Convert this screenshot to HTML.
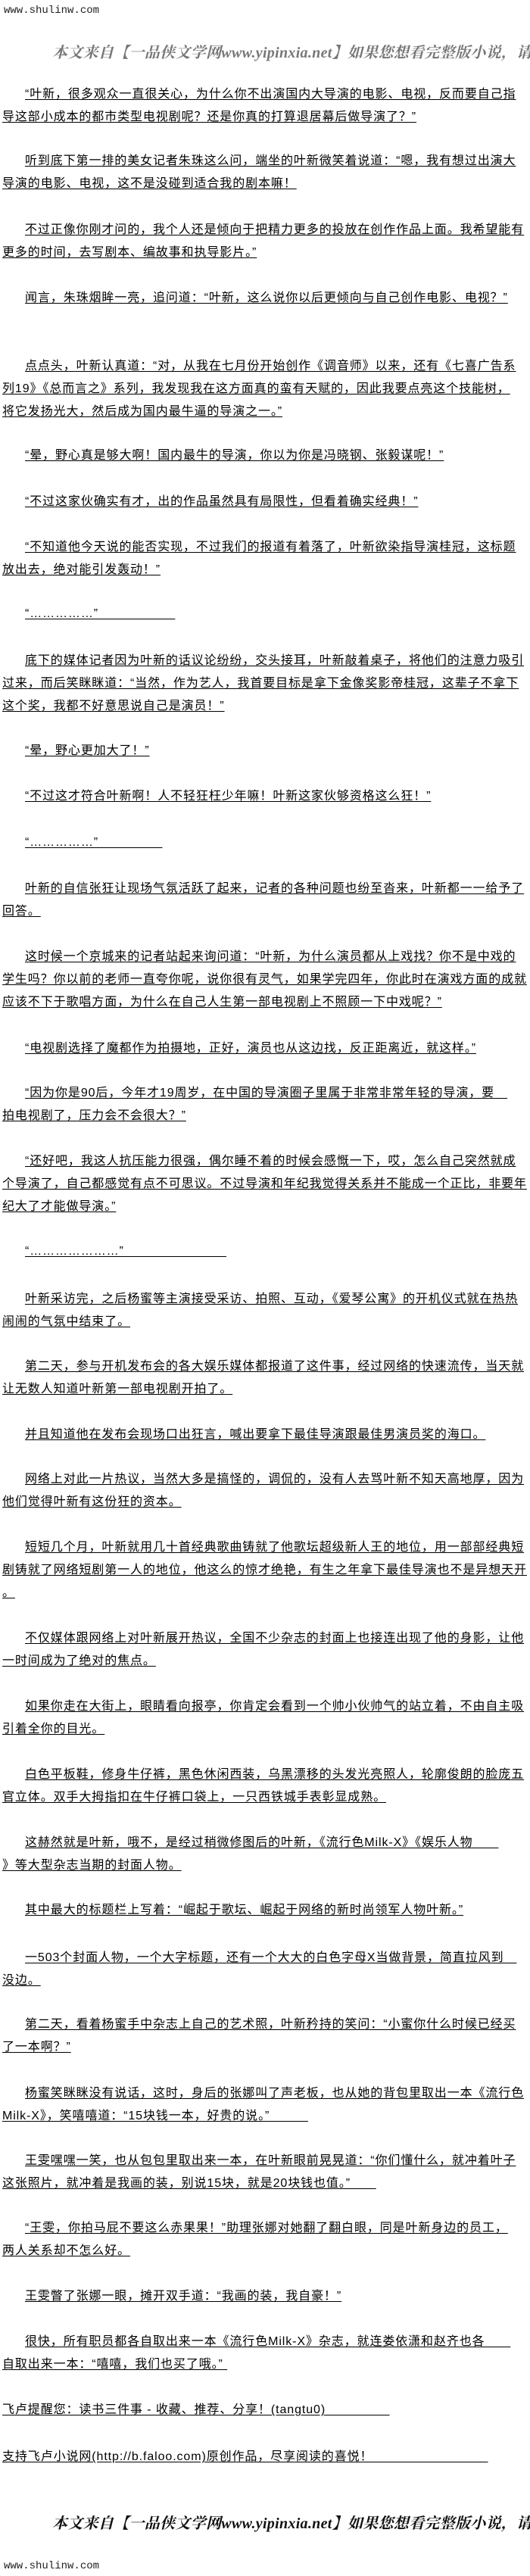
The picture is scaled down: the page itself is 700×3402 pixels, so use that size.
<!DOCTYPE html>
<html><head><meta charset="utf-8">
<style>
html,body{margin:0;padding:0;background:#fff;}
body{width:700px;height:3402px;position:relative;overflow:hidden;}
.p{position:absolute;left:3px;font-family:"Liberation Sans","Noto Sans CJK SC",sans-serif;font-size:16px;line-height:29.8px;letter-spacing:0.9px;color:#000;white-space:pre;text-decoration:underline;text-underline-offset:2px;}
.i{display:inline-block;width:30px;text-decoration:none;}
.www{position:absolute;left:5px;font-family:"Liberation Mono",monospace;font-size:14px;color:#222;}
.hd{position:absolute;left:69px;font-family:"Liberation Serif","Noto Serif CJK SC",serif;font-size:20px;font-weight:bold;font-style:italic;white-space:nowrap;letter-spacing:0.3px;}
</style></head><body>
<div class="www" style="top:6px">www.shulinw.com</div>
<div class="hd" style="top:53px;color:#777">本文来自【一品侠文学网www.yipinxia.net】如果您想看完整版小说，请</div>

<div class="p" style="top:110px"><span class="i"></span>“叶新，很多观众一直很关心，为什么你不出演国内大导演的电影、电视，反而要自己指
导这部小成本的都市类型电视剧呢？还是你真的打算退居幕后做导演了？”</div>
<div class="p" style="top:198px"><span class="i"></span>听到底下第一排的美女记者朱珠这么问，端坐的叶新微笑着说道：“嗯，我有想过出演大
导演的电影、电视，这不是没碰到适合我的剧本嘛！</div>
<div class="p" style="top:289px"><span class="i"></span>不过正像你刚才问的，我个人还是倾向于把精力更多的投放在创作作品上面。我希望能有
更多的时间，去写剧本、编故事和执导影片。”</div>
<div class="p" style="top:379px"><span class="i"></span>闻言，朱珠烟眸一亮，追问道：“叶新，这么说你以后更倾向与自己创作电影、电视？”</div>
<div class="p" style="top:469px"><span class="i"></span>点点头，叶新认真道：“对，从我在七月份开始创作《调音师》以来，还有《七喜广告系
列19》《总而言之》系列，我发现我在这方面真的蛮有天赋的，因此我要点亮这个技能树，
将它发扬光大，然后成为国内最牛逼的导演之一。”</div>
<div class="p" style="top:587px"><span class="i"></span>“晕，野心真是够大啊！国内最牛的导演，你以为你是冯晓钢、张毅谋呢！”</div>
<div class="p" style="top:648px"><span class="i"></span>“不过这家伙确实有才，出的作品虽然具有局限性，但看着确实经典！”</div>
<div class="p" style="top:708px"><span class="i"></span>“不知道他今天说的能否实现，不过我们的报道有着落了，叶新欲染指导演桂冠，这标题
放出去，绝对能引发轰动！”</div>
<div class="p" style="top:796px"><span class="i"></span>“……………”　　　　　　</div>
<div class="p" style="top:858px"><span class="i"></span>底下的媒体记者因为叶新的话议论纷纷，交头接耳，叶新敲着桌子，将他们的注意力吸引
过来，而后笑眯眯道：“当然，作为艺人，我首要目标是拿下金像奖影帝桂冠，这辈子不拿下
这个奖，我都不好意思说自己是演员！”</div>
<div class="p" style="top:977px"><span class="i"></span>“晕，野心更加大了！”</div>
<div class="p" style="top:1037px"><span class="i"></span>“不过这才符合叶新啊！人不轻狂枉少年嘛！叶新这家伙够资格这么狂！”</div>
<div class="p" style="top:1098px"><span class="i"></span>“……………”　　　　　</div>
<div class="p" style="top:1159px"><span class="i"></span>叶新的自信张狂让现场气氛活跃了起来，记者的各种问题也纷至沓来，叶新都一一给予了
回答。</div>
<div class="p" style="top:1249px"><span class="i"></span>这时候一个京城来的记者站起来询问道：“叶新，为什么演员都从上戏找？你不是中戏的
学生吗？你以前的老师一直夸你呢，说你很有灵气，如果学完四年，你此时在演戏方面的成就
应该不下于歌唱方面，为什么在自己人生第一部电视剧上不照顾一下中戏呢？”</div>
<div class="p" style="top:1370px"><span class="i"></span>“电视剧选择了魔都作为拍摄地，正好，演员也从这边找，反正距离近，就这样。”</div>
<div class="p" style="top:1429px"><span class="i"></span>“因为你是90后，今年才19周岁，在中国的导演圈子里属于非常非常年轻的导演，要　
拍电视剧了，压力会不会很大？”</div>
<div class="p" style="top:1519px"><span class="i"></span>“还好吧，我这人抗压能力很强，偶尔睡不着的时候会感慨一下，哎，怎么自己突然就成
个导演了，自己都感觉有点不可思议。不过导演和年纪我觉得关系并不能成一个正比，非要年
纪大了才能做导演。”</div>
<div class="p" style="top:1638px"><span class="i"></span>“…………………”　　　　　　　　</div>
<div class="p" style="top:1701px"><span class="i"></span>叶新采访完，之后杨蜜等主演接受采访、拍照、互动，《爱琴公寓》的开机仪式就在热热
闹闹的气氛中结束了。</div>
<div class="p" style="top:1790px"><span class="i"></span>第二天，参与开机发布会的各大娱乐媒体都报道了这件事，经过网络的快速流传，当天就
让无数人知道叶新第一部电视剧开拍了。</div>
<div class="p" style="top:1880px"><span class="i"></span>并且知道他在发布会现场口出狂言，喊出要拿下最佳导演跟最佳男演员奖的海口。</div>
<div class="p" style="top:1939px"><span class="i"></span>网络上对此一片热议，当然大多是搞怪的，调侃的，没有人去骂叶新不知天高地厚，因为
他们觉得叶新有这份狂的资本。</div>
<div class="p" style="top:2029px"><span class="i"></span>短短几个月，叶新就用几十首经典歌曲铸就了他歌坛超级新人王的地位，用一部部经典短
剧铸就了网络短剧第一人的地位，他这么的惊才绝艳，有生之年拿下最佳导演也不是异想天开
。</div>
<div class="p" style="top:2149px"><span class="i"></span>不仅媒体跟网络上对叶新展开热议，全国不少杂志的封面上也接连出现了他的身影，让他
一时间成为了绝对的焦点。</div>
<div class="p" style="top:2239px"><span class="i"></span>如果你走在大街上，眼睛看向报亭，你肯定会看到一个帅小伙帅气的站立着，不由自主吸
引着全你的目光。</div>
<div class="p" style="top:2329px"><span class="i"></span>白色平板鞋，修身牛仔裤，黑色休闲西装，乌黑漂移的头发光亮照人，轮廓俊朗的脸庞五
官立体。双手大拇指扣在牛仔裤口袋上，一只西铁城手表彰显成熟。</div>
<div class="p" style="top:2419px"><span class="i"></span>这赫然就是叶新，哦不，是经过稍微修图后的叶新，《流行色Milk-X》《娱乐人物　　
》等大型杂志当期的封面人物。</div>
<div class="p" style="top:2508px"><span class="i"></span>其中最大的标题栏上写着：“崛起于歌坛、崛起于网络的新时尚领军人物叶新。”</div>
<div class="p" style="top:2571px"><span class="i"></span>一503个封面人物，一个大字标题，还有一个大大的白色字母X当做背景，简直拉风到　
没边。</div>
<div class="p" style="top:2659px"><span class="i"></span>第二天，看着杨蜜手中杂志上自己的艺术照，叶新矜持的笑问：“小蜜你什么时候已经买
了一本啊？”</div>
<div class="p" style="top:2750px"><span class="i"></span>杨蜜笑眯眯没有说话，这时，身后的张娜叫了声老板，也从她的背包里取出一本《流行色
Milk-X》，笑嘻嘻道：“15块钱一本，好贵的说。”　　　</div>
<div class="p" style="top:2839px"><span class="i"></span>王雯嘿嘿一笑，也从包包里取出来一本，在叶新眼前晃晃道：“你们懂什么，就冲着叶子
这张照片，就冲着是我画的装，别说15块，就是20块钱也值。”　　</div>
<div class="p" style="top:2928px"><span class="i"></span>“王雯，你拍马屁不要这么赤果果！”助理张娜对她翻了翻白眼，同是叶新身边的员工，
两人关系却不怎么好。</div>
<div class="p" style="top:3018px"><span class="i"></span>王雯瞥了张娜一眼，摊开双手道：“我画的装，我自豪！”</div>
<div class="p" style="top:3078px"><span class="i"></span>很快，所有职员都各自取出来一本《流行色Milk-X》杂志，就连娄依潇和赵齐也各　　
自取出来一本：“嘻嘻，我们也买了哦。” </div>
<div class="p" style="top:3168px">飞卢提醒您：读书三件事 - 收藏、推荐、分享！(tangtu0)　　　　　</div>
<div class="p" style="top:3230px">支持飞卢小说网(http://b.faloo.com)原创作品，尽享阅读的喜悦！　　　　　　　　　</div>

<div class="hd" style="top:3316px;color:#111">本文来自【一品侠文学网www.yipinxia.net】如果您想看完整版小说，请</div>
<div class="www" style="top:3381px">www.shulinw.com</div>
</body></html>
